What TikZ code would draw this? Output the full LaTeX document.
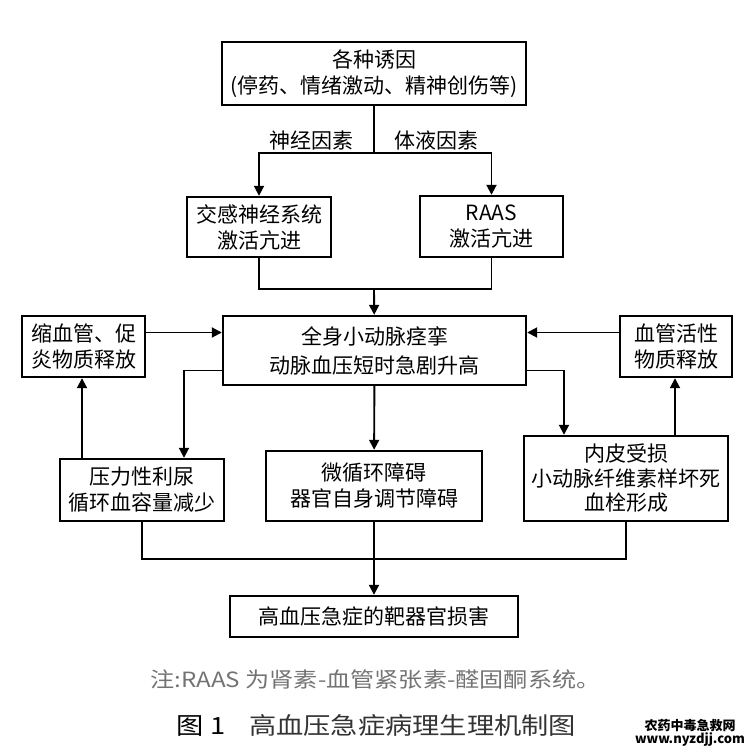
\documentclass[tikz,border=0pt]{standalone}
\usepackage{fontspec}
\usepackage{tikz}
\usetikzlibrary{arrows.meta}
\usetikzlibrary{calc}
\newfontfamily\hei{Noto Sans CJK SC}
\newfontfamily\song[FakeStretch=1.15]{Noto Sans CJK SC}
\tikzset{box/.style={draw, line width=2.4pt, align=center, inner sep=0pt}}
\tikzset{flow/.style={-{Triangle[length=10pt,width=10pt]}}}

\begin{document}
\begin{tikzpicture}[x=1pt, y=-1pt, line width=1.9pt]
	% Default action for each node
	\tikzstyle{every node}=[font=\hei\fontsize{21}{26}\selectfont];
	\useasboundingbox (0,0) rectangle (748,752);

	% TOP
	\node[box, minimum width=304pt, minimum height=63pt] (cause) at (374,73.5) {各种诱因\\(停药、情绪激动、精神创伤等)};
	\coordinate (split) at (374,153);
	\node (nerve) at (311.5,140) {神经因素};		\node (humor) at (436,140) {体液因素};

	\node[box, minimum width=144pt, minimum height=60pt] (symp) at (259,227) {交感神经系统\\激活亢进};
	\node[box, minimum width=143pt, minimum height=61pt] (raas) at (491.5,226.5) {RAAS\\激活亢进};
	\coordinate (merge) at (374,289);

	% MIDDLE
	\node[box, minimum width=123pt, minimum height=61pt] (vaso) at (83.5,346.5) {缩血管、促\\炎物质释放};
	\node[box, minimum width=303pt, minimum height=69pt, font=\hei\fontsize{21}{29}\selectfont] (spasm) at (374.5,350.5) {全身小动脉痉挛\\动脉血压短时急剧升高};
	\node[box, minimum width=112pt, minimum height=61pt] (vact) at (676,346.5) {血管活性\\物质释放};

	% BOTTOM
	\node[box, minimum width=164pt, minimum height=62pt] (diur) at (142,490) {压力性利尿\\循环血容量减少};
	\node[box, minimum width=216pt, minimum height=70pt] (micro) at (374,486) {微循环障碍\\器官自身调节障碍};
	\node[box, minimum width=204pt, minimum height=85pt, font=\hei\fontsize{21}{24.5}\selectfont] (endo) at (626,478.5) {内皮受损\\小动脉纤维素样坏死\\血栓形成};
	\coordinate (join) at (374,559);
	\node[box, minimum width=288pt, minimum height=41pt] (target) at (374,616.5) {高血压急症的靶器官损害};

	% Notes
	\node[text=black!55, font=\song\fontsize{21}{25}\selectfont] (note) at (375.5,680) {注:RAAS 为肾素-血管紧张素-醛固酮系统。};
	\node[text=black!80, font=\song\fontsize{23.7}{28}\selectfont] (caption) at (376.5,725) {{\color{black}图 1}\quad 高血压急症病理生理机制图};
	\node[align=center, font=\hei\bfseries\fontsize{13}{12}\selectfont] (mark) at (690,733) {农药中毒急救网\\www.nyzdjj.com};

	% Connectors
	\draw (cause) -- (split);
	\draw[flow] (split) -| (symp);
	\draw[flow] (split) -| (raas);

	\draw (symp) |- (merge);
	\draw (raas) |- (merge);
	\draw[flow] (merge) -- (spasm);

	\draw[flow] ([yshift=14pt]vaso.east) -- ([yshift=14pt]vaso.east -| spasm.west);
	\draw[flow] ([yshift=14pt]vact.west) -- ([yshift=14pt]vact.west -| spasm.east);

	\draw[flow] ([yshift=-20pt]spasm.west) -| ([xshift=42pt]diur.north);
	\draw[flow] ([xshift=-60pt]diur.north) -- ([xshift=-60pt]diur.north |- vaso.south);
	\draw[flow] (spasm) -- (micro);
	\draw[flow] ([yshift=-20pt]spasm.east) -| ([xshift=-62pt]endo.north);
	\draw[flow] ([xshift=49pt]endo.north) -- ([xshift=49pt]endo.north |- vact.south);

	\draw (diur) |- (join);
	\draw (endo) |- (join);
	\draw[flow] (micro) -- (target);
\end{tikzpicture}
\end{document}
